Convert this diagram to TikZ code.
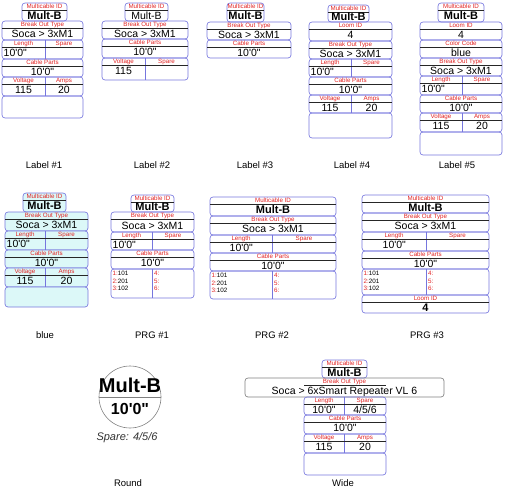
\documentclass[tikz,border=0pt]{standalone}
\usepackage{fontspec}
\setmainfont{Liberation Sans}
\usepackage{tikz}

\definecolor{boxblue}{RGB}{118,118,222}
\definecolor{headred}{RGB}{225,35,35}
\definecolor{cyanfill}{RGB}{220,248,248}

\newcommand{\ft}{10\textquotesingle0\textquotedbl}
% one field: name, x1, x2, top, bottom, header, value, value style
\newcommand{\field}[8]{%
  \draw[boxline] (#2,#4) rectangle (#3,#5);
  \node[headtext] (#1-h) at ({(#2+#3)/2},#4+3.6) {#6};
  \draw[headline] (#2,#4+7) -- (#3,#4+7);
  \node[#8] (#1-v) at ({(#2+#3)/2},{(#4+7+#5)/2}) {#7};
}
% two fields side by side: name, x1, split, x2, top, bottom, left header, right header
\newcommand{\pair}[8]{%
  \draw[boxline] (#2,#5) rectangle (#4,#6);
  \draw[divline] (#3,#5) -- (#3,#6);
  \node[headtext] (#1-hl) at ({(#2+#3)/2},#5+3.6) {#7};
  \node[headtext] (#1-hr) at ({(#3+#4)/2},#5+3.6) {#8};
  \draw[headline] (#2,#5+7) -- (#4,#5+7);
  \coordinate (#1-l) at ({(#2+#3)/2},{(#5+7+#6)/2});
  \coordinate (#1-r) at ({(#3+#4)/2},{(#5+7+#6)/2});
  \coordinate (#1-lw) at (#2+1.5,{(#5+7+#6)/2});
}
% program list: name, x1, split, x2, top, bottom
\newcommand{\prg}[6]{%
  \draw[boxline] (#2,#5) rectangle (#4,#6);
  \draw[divline] (#3,#5) -- (#3,#6);
  \node[prgtext] (#1-1) at (#2+1.5,#5+4.5) {\textcolor{headred}{1:}101};
  \node[prgtext] (#1-2) at (#2+1.5,#5+12) {\textcolor{headred}{2:}201};
  \node[prgtext] (#1-3) at (#2+1.5,#5+19.5) {\textcolor{headred}{3:}102};
  \node[prgtext, text=headred] (#1-4) at (#3+2,#5+4.5) {4:};
  \node[prgtext, text=headred] (#1-5) at (#3+2,#5+12) {5:};
  \node[prgtext, text=headred] (#1-6) at (#3+2,#5+19.5) {6:};
}

\begin{document}
\begin{tikzpicture}[x=1pt, y=-1pt,
  boxline/.style={draw=boxblue, line width=0.65pt, rounded corners=3pt},
  divline/.style={draw=boxblue, line width=0.65pt},
  headline/.style={draw=black!85, line width=0.6pt},
  headtext/.style={text=headred, font=\fontsize{6.2}{7}\selectfont, inner sep=0pt, text height=4.6pt, text depth=0pt},
  valtext/.style={font=\fontsize{10.5}{12}\selectfont, inner sep=0pt, text height=7.6pt, text depth=0pt},
  idtext/.style={font=\bfseries\fontsize{11}{12}\selectfont, inner sep=0pt, text height=7.9pt, text depth=0pt},
  prgtext/.style={anchor=west, font=\fontsize{6.3}{7}\selectfont, inner sep=0pt},
  caption/.style={font=\fontsize{9.5}{11}\selectfont, inner sep=0pt}]
\useasboundingbox (0,0) rectangle (505,503);

\field{a-id}{22}{67}{3}{21}{Multicable ID}{Mult-B}{idtext}
\field{a-bot}{2}{83}{21}{40}{Break Out Type}{Soca > 3xM1}{valtext}
\pair{a-ls}{2}{45}{83}{40}{59}{Length}{Spare}
\node[valtext, anchor=west] (a-len) at (a-ls-lw) {\ft};
\field{a-cp}{2}{83}{59}{77}{Cable Parts}{\ft}{valtext}
\pair{a-va}{2}{45}{83}{77}{96}{Voltage}{Amps}
\node[valtext] (a-volt) at (a-va-l) {115};
\node[valtext] (a-amps) at (a-va-r) {20};
\draw[boxline] (2,96) rectangle (83,118);
\node[caption] (a-cap) at (44,165) {Label \#1};

\field{b-id}{125}{168}{3}{21}{Multicable ID}{Mult-B}{valtext}
\field{b-bot}{102}{188}{21}{39}{Break Out Type}{Soca > 3xM1}{valtext}
\field{b-cp}{102}{188}{39}{58}{Cable Parts}{\ft}{valtext}
\pair{b-vs}{102}{145}{188}{58}{80}{Voltage}{Spare}
\node[valtext, yshift=2pt] (b-volt) at (b-vs-l) {115};
\node[caption] (b-cap) at (152,165) {Label \#2};

\field{c-id}{227}{264}{3}{22}{Multicable ID}{Mult-B}{idtext}
\field{c-bot}{207}{291}{22}{40}{Break Out Type}{Soca > 3xM1}{valtext}
\field{c-cp}{207}{291}{40}{58}{Cable Parts}{\ft}{valtext}
\node[caption] (c-cap) at (255,165) {Label \#3};

\field{d-id}{328}{369}{5}{22}{Multicable ID}{Mult-B}{idtext}
\field{d-loom}{309}{392}{22}{41}{Loom ID}{4}{valtext}
\field{d-bot}{309}{392}{41}{59}{Break Out Type}{Soca > 3xM1}{valtext}
\pair{d-ls}{309}{351}{392}{59}{77}{Length}{Spare}
\node[valtext, anchor=west] (d-len) at (d-ls-lw) {\ft};
\field{d-cp}{309}{392}{77}{95}{Cable Parts}{\ft}{valtext}
\pair{d-va}{309}{351}{392}{95}{113}{Voltage}{Amps}
\node[valtext] (d-volt) at (d-va-l) {115};
\node[valtext] (d-amps) at (d-va-r) {20};
\draw[boxline] (309,113) rectangle (392,138);
\node[caption] (d-cap) at (352,165) {Label \#4};

\field{e-id}{438}{484}{3}{22}{Multicable ID}{Mult-B}{idtext}
\field{e-loom}{420}{502}{22}{40}{Loom ID}{4}{valtext}
\field{e-cc}{420}{502}{40}{58}{Color Code}{blue}{valtext}
\field{e-bot}{420}{502}{58}{76}{Break Out Type}{Soca > 3xM1}{valtext}
\pair{e-ls}{420}{462}{502}{76}{95}{Length}{Spare}
\node[valtext, anchor=west] (e-len) at (e-ls-lw) {\ft};
\field{e-cp}{420}{502}{95}{113}{Cable Parts}{\ft}{valtext}
\pair{e-va}{420}{462}{502}{113}{132}{Voltage}{Amps}
\node[valtext] (e-volt) at (e-va-l) {115};
\node[valtext] (e-amps) at (e-va-r) {20};
\draw[boxline] (420,132) rectangle (502,155);
\node[caption] (e-cap) at (457,165) {Label \#5};

\begin{scope}[boxline/.append style={fill=cyanfill}]
\field{f-id}{23}{66}{193}{212}{Multicable ID}{Mult-B}{idtext}
\field{f-bot}{5}{88}{212}{231}{Break Out Type}{Soca > 3xM1}{valtext}
\pair{f-ls}{5}{45}{88}{231}{250}{Length}{Spare}
\node[valtext, anchor=west] (f-len) at (f-ls-lw) {\ft};
\field{f-cp}{5}{88}{250}{268}{Cable Parts}{\ft}{valtext}
\pair{f-va}{5}{45}{88}{268}{287}{Voltage}{Amps}
\node[valtext] (f-volt) at (f-va-l) {115};
\node[valtext] (f-amps) at (f-va-r) {20};
\draw[boxline] (5,287) rectangle (88,307);
\end{scope}
\node[caption] (f-cap) at (45,335) {blue};

\field{g-id}{131}{174}{195}{212}{Multicable ID}{Mult-B}{idtext}
\field{g-bot}{111}{194}{212}{232}{Break Out Type}{Soca > 3xM1}{valtext}
\pair{g-ls}{111}{152}{194}{232}{250}{Length}{Spare}
\node[valtext, anchor=west] (g-len) at (g-ls-lw) {\ft};
\field{g-cp}{111}{194}{250}{269}{Cable Parts}{\ft}{valtext}
\prg{g-prg}{111}{152}{194}{269}{298}
\node[caption] (g-cap) at (152,335) {PRG \#1};

\field{h-id}{210}{336}{197}{216}{Multicable ID}{Mult-B}{idtext}
\field{h-bot}{210}{336}{216}{235}{Break Out Type}{Soca > 3xM1}{valtext}
\pair{h-ls}{210}{272}{336}{235}{253}{Length}{Spare}
\node[valtext, anchor=west, xshift=18pt] (h-len) at (h-ls-lw) {\ft};
\field{h-cp}{210}{336}{253}{271}{Cable Parts}{\ft}{valtext}
\prg{h-prg}{210}{272}{336}{271}{299}
\node[caption] (h-cap) at (272,335) {PRG \#2};

\field{i-id}{362}{489}{195}{213}{Multicable ID}{Mult-B}{idtext}
\field{i-bot}{362}{489}{213}{232}{Break Out Type}{Soca > 3xM1}{valtext}
\pair{i-ls}{362}{426}{489}{232}{251}{Length}{Spare}
\node[valtext, anchor=west, xshift=19pt] (i-len) at (i-ls-lw) {\ft};
\field{i-cp}{362}{489}{251}{269}{Cable Parts}{\ft}{valtext}
\prg{i-prg}{362}{426}{489}{269}{295}
\field{i-loom}{362}{489}{295}{313}{Loom ID}{4}{idtext}
\node[caption] (i-cap) at (427,335) {PRG \#3};

\draw[gray, line width=0.6pt] (130,397) circle (31);
\draw[gray, line width=0.6pt] (99,397) -- (161,397);
\node[font=\bfseries\fontsize{20}{22}\selectfont, inner sep=0pt] (k-id) at (130,385) {Mult-B};
\node[font=\bfseries\fontsize{16}{18}\selectfont, inner sep=0pt] (k-len) at (130,409) {\ft};
\node[font=\itshape\fontsize{11}{13}\selectfont, inner sep=0pt, text=black!80] (k-spare) at (127,438) {Spare: 4/5/6};
\node[caption] (k-cap) at (128,483) {Round};

\field{j-id}{322}{367}{360}{378}{Multicable ID}{Mult-B}{idtext}
\draw[boxline, draw=gray] (245,378) rectangle (444,397);
\node[headtext] (j-bot-h) at (344.5,381.6) {Break Out Type};
\draw[headline] (304,385) -- (386,385);
\node[valtext] (j-bot-v) at (344.5,391) {Soca > 6xSmart Repeater VL 6};
\pair{j-ls}{304}{344}{386}{397}{415}{Length}{Spare}
\node[valtext] (j-len) at (j-ls-l) {\ft};
\node[valtext] (j-spare) at (j-ls-r) {4/5/6};
\field{j-cp}{304}{386}{415}{434}{Cable Parts}{\ft}{valtext}
\pair{j-va}{304}{344}{386}{434}{453}{Voltage}{Amps}
\node[valtext] (j-volt) at (j-va-l) {115};
\node[valtext] (j-amps) at (j-va-r) {20};
\draw[boxline] (304,453) rectangle (386,475);
\node[caption] (j-cap) at (343,483) {Wide};
\end{tikzpicture}
\end{document}
